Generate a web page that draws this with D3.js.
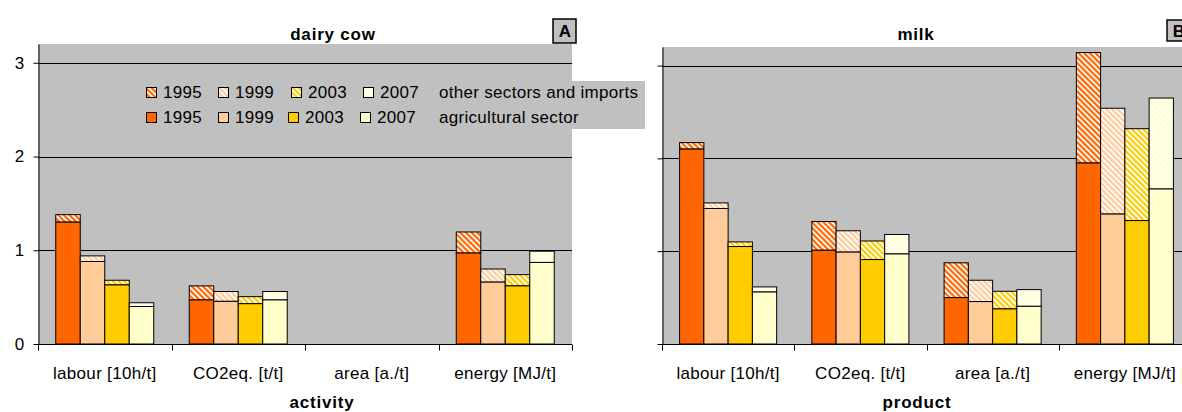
<!DOCTYPE html>
<html>
<head>
<meta charset="utf-8">
<script src="https://cdn.jsdelivr.net/npm/d3@7"></script>
<style>
body { margin: 0; background: #fff; }
svg { display: block; font-family: Arial, "Liberation Sans", sans-serif; }
text { letter-spacing: 0.3px; }
</style>
</head>
<body>
<div id="app"></div>
<script>
const categories = ["labour [10h/t]", "CO2eq. [t/t]", "area [a./t]", "energy [MJ/t]"];
const years = ["1995", "1999", "2003", "2007"];
const yearColors = ["#ff6600", "#ffcc99", "#ffcc00", "#ffffcc"];
const yTicks = [0, 1, 2, 3];

// dairy cow (activity), one row per category, one value per year
const cowAgri = [[1.30, 0.88, 0.63, 0.40], [0.47, 0.455, 0.43, 0.47], [0, 0, 0, 0], [0.97, 0.66, 0.62, 0.87]];
const cowOther = [[0.08, 0.06, 0.05, 0.04], [0.15, 0.105, 0.075, 0.09], [0, 0, 0, 0], [0.225, 0.14, 0.12, 0.12]];

// milk (product)
const milkAgri = [[2.10, 1.46, 1.05, 0.56], [1.01, 0.99, 0.91, 0.97], [0.50, 0.457, 0.378, 0.406], [1.95, 1.40, 1.33, 1.67]];
const milkOther = [[0.07, 0.06, 0.05, 0.055], [0.31, 0.23, 0.20, 0.21], [0.375, 0.23, 0.19, 0.18], [1.19, 1.14, 0.99, 0.98]];

const W = 1182, H = 412;
const FS = 17;
const svg = d3.select("#app").append("svg").attr("width", W).attr("height", H);
svg.append("rect").attr("width", W).attr("height", H).attr("fill", "#fff");

// hatch patterns (other sectors and imports)
const defs = svg.append("defs");
yearColors.forEach((c, i) => {
    const p = defs.append("pattern")
        .attr("id", "hatch" + i)
        .attr("patternUnits", "userSpaceOnUse")
        .attr("width", 4).attr("height", 4)
        .attr("patternTransform", "rotate(-45)");
    p.append("rect").attr("width", 4).attr("height", 4).attr("fill", "#fff");
    p.append("rect").attr("width", 2.2).attr("height", 4).attr("fill", c);
});

const drawPanel = (opt) => {
    const { left, right, top, bottom, agri, other } = opt;
    const g = svg.append("g");

    g.append("rect")
        .attr("x", left).attr("y", top)
        .attr("width", right - left).attr("height", bottom - top)
        .attr("fill", "#c0c0c0");

    const y = d3.scaleLinear().domain([0, 3.2]).range([bottom, top]);
    const x = d3.scaleBand().domain(categories).range([left, right]);
    const xYear = d3.scaleBand().domain(years).range([0, x.bandwidth()]).paddingOuter(0.725);

    // gridlines
    g.selectAll(".grid").data(yTicks.filter(d => d > 0)).enter()
        .append("line")
        .attr("x1", left).attr("x2", right)
        .attr("y1", d => Math.round(y(d)) + 0.5).attr("y2", d => Math.round(y(d)) + 0.5)
        .attr("stroke", "#000");

    // bars
    categories.forEach((cat, ci) => {
        years.forEach((yr, yi) => {
            const a = agri[ci][yi], o = other[ci][yi];
            if (!a && !o) return;
            const bx = x(cat) + xYear(yr);
            g.append("rect")
                .attr("x", bx).attr("y", y(a + o))
                .attr("width", xYear.bandwidth()).attr("height", y(a) - y(a + o))
                .attr("fill", `url(#hatch${yi})`)
                .attr("stroke", "#000").attr("stroke-width", 1);
            g.append("rect")
                .attr("x", bx).attr("y", y(a))
                .attr("width", xYear.bandwidth()).attr("height", y(0) - y(a))
                .attr("fill", yearColors[yi])
                .attr("stroke", "#000").attr("stroke-width", 1);
        });
    });

    // y axis
    const yAxis = g.append("g")
        .attr("transform", `translate(${left + 0.5},0)`)
        .call(d3.axisLeft(y).tickValues(yTicks).tickSize(5).tickSizeOuter(0).tickPadding(9)
            .tickFormat(opt.yLabels ? d3.format("d") : ""));
    yAxis.attr("font-size", FS).attr("font-family", null);
    yAxis.selectAll("line,path").attr("stroke", "#000");

    // x axis: labels centred, ticks at category boundaries
    const xAxis = g.append("g")
        .attr("transform", `translate(0,${bottom + 0.5})`)
        .call(d3.axisBottom(x).tickSize(0).tickSizeOuter(0).tickPadding(22));
    xAxis.attr("font-size", FS).attr("font-family", null);
    xAxis.select("path").attr("stroke", "#000").attr("d", `M${left},0H${right}`);
    const bounds = categories.map(c => x(c)).concat([right]);
    xAxis.selectAll(".bound").data(bounds).enter()
        .append("line")
        .attr("x1", d => Math.round(d) + 0.5).attr("x2", d => Math.round(d) + 0.5)
        .attr("y1", 0).attr("y2", 6)
        .attr("stroke", "#000");

    svg.append("text")
        .attr("x", opt.titleX).attr("y", 40)
        .attr("text-anchor", "middle")
        .attr("font-size", FS).attr("font-weight", "bold")
        .style("letter-spacing", "0.8px")
        .text(opt.title);
    svg.append("text")
        .attr("x", opt.xTitleX).attr("y", 408)
        .attr("text-anchor", "middle")
        .attr("font-size", FS).attr("font-weight", "bold")
        .style("letter-spacing", "0.8px")
        .text(opt.xTitle);

    const b = opt.box;
    svg.append("rect")
        .attr("x", b.x).attr("y", b.y).attr("width", b.w).attr("height", b.h)
        .attr("fill", "#c0c0c0").attr("stroke", "#000").attr("stroke-width", 1.5);
    svg.append("text")
        .attr("x", b.x + 12).attr("y", b.y + b.h / 2 + 6)
        .attr("text-anchor", "middle")
        .attr("font-size", FS).attr("font-weight", "bold")
        .text(opt.letter);
};

drawPanel({
    left: 38, right: 572, top: 44, bottom: 344,
    agri: cowAgri, other: cowOther, yLabels: true,
    title: "dairy cow", titleX: 333, xTitle: "activity", xTitleX: 322,
    letter: "A", box: { x: 553, y: 19, w: 23, h: 24 }
});

drawPanel({
    left: 662, right: 1191, top: 47, bottom: 344,
    agri: milkAgri, other: milkOther, yLabels: false,
    title: "milk", titleX: 916, xTitle: "product", xTitleX: 917,
    letter: "B", box: { x: 1167, y: 20, w: 30, h: 21 }
});

// legend
const legend = svg.append("g");
legend.append("rect")
    .attr("x", 136).attr("y", 81).attr("width", 509).attr("height", 48)
    .attr("fill", "#c0c0c0");
const legendRows = [
    { y: 87, fill: i => `url(#hatch${i})`, label: "other sectors and imports", xs: [146, 218, 291, 363] },
    { y: 112, fill: i => yearColors[i], label: "agricultural sector", xs: [146, 218, 288, 360] }
];
legendRows.forEach(row => {
    years.forEach((yr, i) => {
        legend.append("rect")
            .attr("x", row.xs[i] + 0.5).attr("y", row.y + 0.5)
            .attr("width", 10).attr("height", 10)
            .attr("fill", row.fill(i))
            .attr("stroke", "#000");
        legend.append("text")
            .attr("x", row.xs[i] + 17).attr("y", row.y + 10.5)
            .attr("font-size", FS)
            .text(yr);
    });
    legend.append("text")
        .attr("x", 439).attr("y", row.y + 10.5)
        .attr("font-size", FS)
        .text(row.label);
});
</script>
</body>
</html>
